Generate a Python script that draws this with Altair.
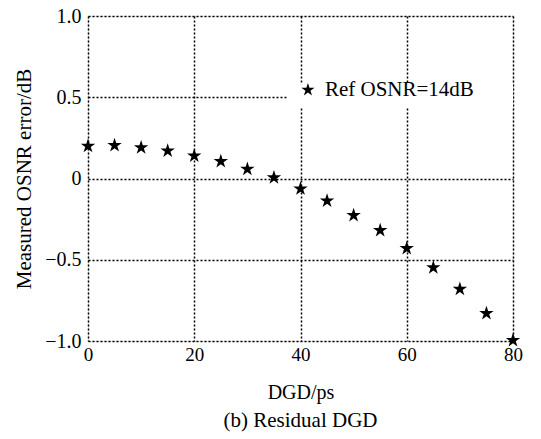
import altair as alt
import pandas as pd

dgd = [0, 5, 10, 15, 20, 25, 30, 35, 40, 45, 50, 55, 60, 65, 70, 75, 80]
err = [0.20, 0.204, 0.19, 0.17, 0.14, 0.106, 0.058, 0.005, -0.063, -0.138,
       -0.227, -0.319, -0.43, -0.549, -0.68, -0.83, -0.996]
series = ["Ref OSNR=14dB"] * len(dgd)

df = pd.DataFrame({"dgd": dgd, "err": err, "series": series})

FONT = "Liberation Serif"
STAR = "M0,-1L0.2245,-0.309L0.951,-0.309L0.363,0.118L0.588,0.809L0,0.382L-0.588,0.809L-0.363,0.118L-0.951,-0.309L-0.2245,-0.309Z"

pts = alt.Chart(df).mark_point(
    shape=STAR, filled=True, color="black", size=230, opacity=1, clip=False,
).encode(
    x=alt.X("dgd:Q", scale=alt.Scale(domain=[0, 80], nice=False, zero=False),
            axis=alt.Axis(values=[0, 20, 40, 60, 80], title="DGD/ps",
                          titleFontSize=20, titleFontWeight="normal", titleFont=FONT,
                          titlePadding=18, labelFontSize=19, labelFont=FONT,
                          labelPadding=4, tickSize=0, domain=False,
                          grid=True, gridColor="black", gridDash=[2, 2], gridWidth=1.5,
                          gridOpacity=1, labelColor="black", titleColor="black",
                          labelFlush=False)),
    y=alt.Y("err:Q", scale=alt.Scale(domain=[-1, 1], nice=False, zero=False),
            axis=alt.Axis(values=[-1, -0.5, 0, 0.5, 1], title="Measured OSNR error/dB",
                          labelExpr="datum.value == 0 ? '0' : replace(format(datum.value, '.1f'), '-', '\u2212')",
                          titleFontSize=21, titleFontWeight="normal", titleFont=FONT,
                          titlePadding=10, labelFontSize=20, labelFont=FONT,
                          labelPadding=7, tickSize=0, domain=False,
                          grid=True, gridColor="black", gridDash=[2, 2], gridWidth=1.5,
                          gridOpacity=1, labelColor="black", titleColor="black",
                          labelFlush=False)),
    tooltip=["series:N"],
)

legend_box = alt.Chart(pd.DataFrame({"x": [37.5], "x2": [80], "y": [0.44], "y2": [0.58]})).mark_rect(
    color="white", opacity=1
).encode(x="x:Q", x2="x2:Q", y="y:Q", y2="y2:Q")

legend_df = pd.DataFrame({"x": [41.4], "y": [0.545], "label": ["Ref OSNR=14dB"]})
legend_star = alt.Chart(legend_df).mark_point(
    shape=STAR, filled=True, color="black", size=190, opacity=1,
).encode(x="x:Q", y="y:Q")
legend_text = alt.Chart(legend_df).mark_text(
    align="left", baseline="middle", dx=17, fontSize=21, font=FONT, color="black"
).encode(x="x:Q", y="y:Q", text="label:N")

chart = alt.layer(legend_box, pts, legend_star, legend_text).properties(
    width=425, height=325,
    title=alt.TitleParams("(b) Residual DGD", orient="bottom", fontSize=21,
                          font=FONT, fontWeight="normal", color="black", offset=8),
    autosize=alt.AutoSizeParams(type="none"),
    padding={"left": 80, "top": 8, "right": 20, "bottom": 96},
).configure_view(stroke="black", strokeWidth=2.5).configure(background="white")

chart.save("out.html", embed_options={"renderer": "svg", "actions": False})
